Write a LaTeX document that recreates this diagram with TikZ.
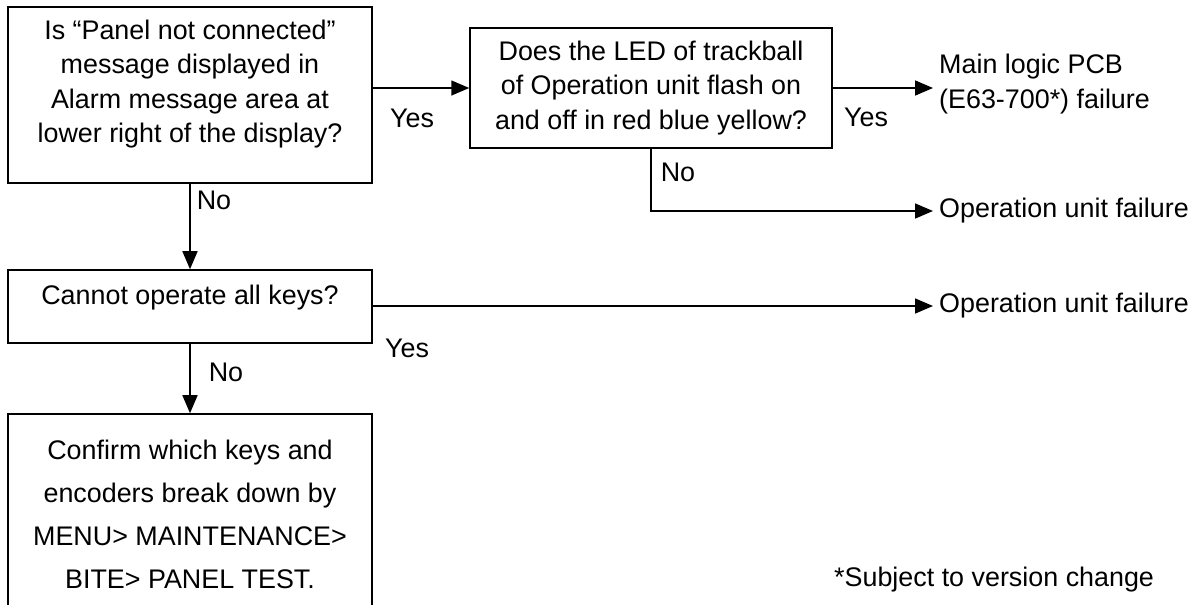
\documentclass[tikz,border=0pt]{standalone}
\usepackage{fontspec}
\setmainfont{Liberation Sans}
\usetikzlibrary{arrows.meta}
\tikzset{
  qbox/.style={draw, line width=0.9pt, align=center, minimum width=7.28cm,
               font=\fontsize{15.3}{19.4}\selectfont},
  result/.style={anchor=west, align=left, font=\fontsize{15.3}{19.4}\selectfont},
  answer/.style={font=\fontsize{15.3}{18}\selectfont},
  flow/.style={line width=0.9pt, -{Triangle[length=0.36cm,width=0.3cm]}},
  plain/.style={line width=0.9pt}
}
\begin{document}
\begin{tikzpicture}[x=0.02cm, y=-0.02cm]
    \useasboundingbox (0,0) rectangle (1200,605);

    \node[qbox, minimum height=3.52cm, text depth=0.55cm] (qpanel) at (190,95)
      {Is “Panel not connected”\\ message displayed in\\ Alarm message area at\\ lower right of the display?};
    \node[qbox, minimum width=7.24cm, minimum height=2.4cm] (qled) at (651,88)
      {Does the LED of trackball\\ of Operation unit flash on\\ and off in red blue yellow?};
    \node[qbox, minimum height=1.46cm, text depth=0.47cm] (qkeys) at (190,306.5)
      {Cannot operate all keys?};
    \node[qbox, minimum height=4.0cm, font=\fontsize{15.3}{24.5}\selectfont] (confirm) at (190,514)
      {Confirm which keys and\\ encoders break down by\\ MENU> MAINTENANCE>\\ BITE> PANEL TEST.};

    \node[result] (mainpcb) at (933,84) {Main logic PCB\\(E63-700*) failure};
    \node[result] (opfailtop) at (933,211) {Operation unit failure};
    \node[result] (opfailkeys) at (933,306) {Operation unit failure};

    % connectors
    \draw[flow] (qpanel.east |- qled.west) -- (qled.west);
    \draw[flow] (qled.east) -- (qled.east -| mainpcb.west);
    \draw[flow] (qled.south) |- (opfailtop.west);
    \draw[flow] (qpanel.south) -- (qkeys.north);
    \draw[flow] (qkeys.east |- opfailkeys.west) -- (opfailkeys.west);
    \draw[flow] (qkeys.south) -- (confirm.north);

    % answers
    \node[answer] (yespanel) at (412,118) {Yes};
    \node[answer] (yesled) at (866,117) {Yes};
    \node[answer] (noled) at (678,172) {No};
    \node[answer] (nopanel) at (214,200) {No};
    \node[answer] (yeskeys) at (407,348) {Yes};
    \node[answer] (nokeys) at (226,372) {No};

    \node[result] (note) at (828,580) {*Subject to version change};
\end{tikzpicture}
\end{document}
